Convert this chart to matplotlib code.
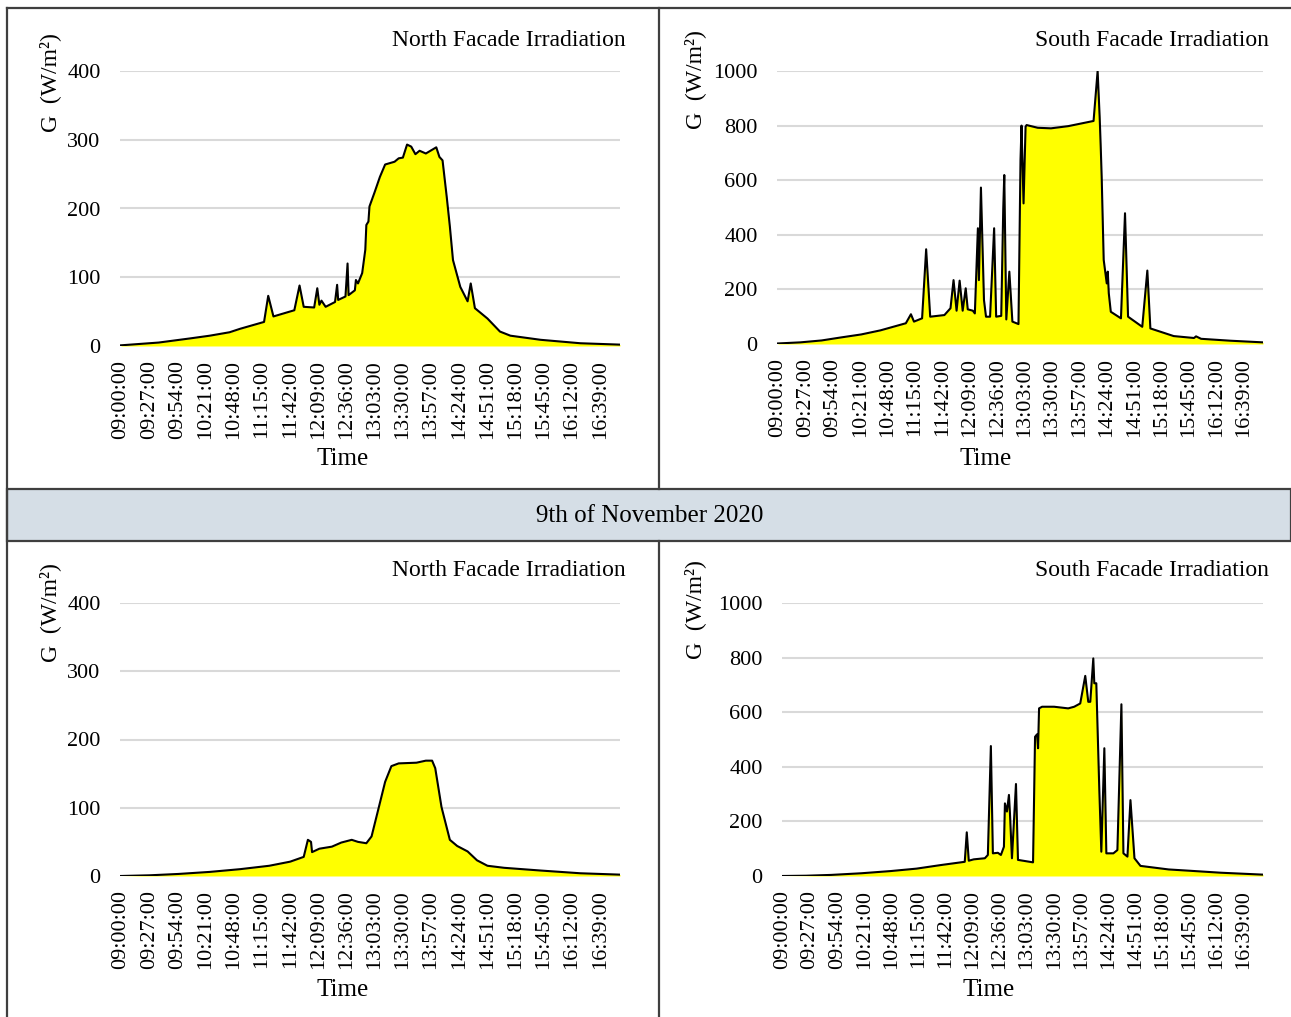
import matplotlib
matplotlib.use("Agg")
import matplotlib.pyplot as plt
from matplotlib.lines import Line2D
from matplotlib.patches import Rectangle

plt.rcParams['font.family'] = ['Liberation Serif', 'DejaVu Serif']

# Category labels (one label every 27 samples, 1 sample = 1 minute)
time_labels = ["09:00:00", "09:27:00", "09:54:00", "10:21:00", "10:48:00",
               "11:15:00", "11:42:00", "12:09:00", "12:36:00", "13:03:00",
               "13:30:00", "13:57:00", "14:24:00", "14:51:00", "15:18:00",
               "15:45:00", "16:12:00", "16:39:00"]
label_step = 27
last_sample = 478

# North facade, top panel (minutes after 09:00, W/m2)
north_top_t = [0, 36, 66, 85, 104, 114, 137, 141, 146, 166, 171, 175, 185, 188,
               190, 192, 196, 205, 207, 208, 215, 217, 218, 224, 225, 227, 231,
               234, 235, 237, 238, 243, 248, 253, 262, 266, 270, 274, 278, 282,
               286, 292, 302, 305, 308, 312, 315, 318, 325, 332, 335, 339, 351,
               363, 373, 402, 440, 478]
north_top_g = [1, 5, 11, 15, 20, 25, 35, 73, 43, 52, 88, 57, 56, 84,
               60, 66, 57, 64, 89, 67, 72, 120, 74, 81, 96, 91, 106,
               140, 176, 181, 203, 224, 246, 264, 268, 273, 274, 293, 290, 279,
               284, 280, 289, 275, 270, 217, 174, 125, 86, 65, 91, 55, 40,
               21, 15, 9, 4, 2]

# South facade, top panel
south_top_t = [0, 22, 43, 62, 82, 101, 126, 131, 134, 142, 146, 150, 164, 170,
               173, 176, 179, 182, 185, 187, 192, 194, 197, 198, 200, 203, 205,
               209, 213, 215, 220, 222, 223, 225, 228, 231, 237, 239, 240, 242,
               244, 245, 256, 269, 286, 311, 315, 317, 318, 319, 321, 324, 325,
               326, 328, 338, 342, 345, 359, 364, 367, 390, 410, 412, 417, 446, 478]
south_top_g = [2, 6, 13, 24, 35, 50, 76, 109, 82, 94, 347, 100, 106, 131,
               234, 122, 232, 122, 204, 127, 122, 112, 424, 234, 573, 161, 100,
               100, 424, 100, 103, 497, 619, 90, 265, 82, 73, 674, 800, 515,
               796, 802, 792, 790, 798, 817, 1000, 833, 729, 613, 308, 222, 265,
               186, 118, 94, 479, 100, 63, 269, 57, 29, 22, 28, 19, 12, 6]

# North facade, bottom panel
north_bot_t = [0, 27, 55, 85, 114, 142, 162, 175, 179, 182, 183, 190, 202, 211,
               221, 227, 235, 240, 247, 253, 259, 266, 283, 292, 298, 301, 307,
               315, 322, 332, 341, 351, 367, 402, 440, 478]
north_bot_g = [0, 1, 3, 6, 10, 15, 21, 28, 53, 50, 35, 40, 43, 49,
               53, 50, 48, 58, 101, 138, 161, 165, 166, 169, 169, 158, 101,
               53, 44, 36, 23, 15, 12, 8, 4, 2]

# South facade, bottom panel
south_bot_t = [0, 23, 48, 78, 107, 133, 157, 181, 183, 185, 190, 201, 204, 207,
               209, 214, 217, 220, 221, 223, 225, 226, 228, 232, 234, 249, 251,
               253, 254, 255, 258, 270, 284, 290, 296, 301, 304, 306, 309, 310,
               312, 315, 317, 320, 322, 329, 333, 337, 339, 343, 346, 350, 356,
               384, 406, 436, 478]
south_bot_g = [0, 1, 4, 10, 18, 27, 40, 52, 160, 56, 61, 65, 77, 476,
               83, 85, 77, 107, 266, 236, 297, 230, 65, 337, 59, 50, 510,
               519, 468, 614, 620, 620, 614, 620, 632, 733, 638, 638, 797, 706,
               706, 315, 89, 468, 83, 83, 95, 629, 83, 71, 278, 65, 37,
               24, 19, 12, 5]

W, H = 1291, 1017
fig = plt.figure(figsize=(W / 100, H / 100), dpi=100)


def fx(px):
    return px / W


def fy(py):
    return 1 - py / H


# (left, right, top, bottom, ymax, step, t, g, title, title y, ylabel xy, time xy) in px
panels = [
    (120, 620, 71, 346, 400, 100, north_top_t, north_top_g,
     "North Facade Irradiation", 40, (50, 83), (343, 459)),
    (777, 1263, 71, 344, 1000, 200, south_top_t, south_top_g,
     "South Facade Irradiation", 40, (695, 80), (986, 459)),
    (120, 620, 603, 876, 400, 100, north_bot_t, north_bot_g,
     "North Facade Irradiation", 571, (50, 613), (343, 990)),
    (782, 1263, 603, 876, 1000, 200, south_bot_t, south_bot_g,
     "South Facade Irradiation", 571, (695, 610), (989, 990)),
]

for left, right, top, bottom, ymax, step, t, g, title, ty, ylab, tlab in panels:
    ax = fig.add_axes([fx(left), fy(bottom), (right - left) / W, (bottom - top) / H])
    ax.fill_between(t, g, 0, color="#FFFF00", linewidth=0, zorder=2)
    ax.plot(t, g, color="black", linewidth=1.5, zorder=3)
    ax.set_xlim(-1, last_sample)
    ax.set_ylim(0, ymax)
    ax.set_yticks(range(0, ymax + 1, step))
    ax.set_xticks([i * label_step for i in range(len(time_labels))])
    ax.set_xticklabels(time_labels, rotation=90)
    ax.tick_params(axis="both", length=0, labelsize=16)
    ax.tick_params(axis="x", pad=10)
    ax.tick_params(axis="y", pad=14)
    ax.grid(axis="y", color="#D9D9D9", linewidth=1.5, zorder=1)
    ax.set_axisbelow(True)
    for s in ax.spines.values():
        s.set_visible(False)
    ax.axhline(0, color="#D9D9D9", linewidth=1.5, zorder=1)
    fig.text(fx(right + 6), fy(ty), title, ha="right", va="center", fontsize=17)
    fig.text(fx(ylab[0]), fy(ylab[1]), "G  (W/m²)", rotation=90,
             ha="center", va="center", fontsize=17)
    fig.text(fx(tlab[0]), fy(tlab[1]), "Time", ha="center", va="center", fontsize=18)

# Frame lines and date banner
line_kw = dict(color="#3F3F3F", linewidth=1.6, transform=fig.transFigure)
fig.add_artist(Rectangle((fx(7), fy(541)), fx(1291) - fx(7), fy(489) - fy(541),
                         transform=fig.transFigure, facecolor="#D5DEE6",
                         edgecolor="#3F3F3F", linewidth=1.6))
fig.add_artist(Line2D([fx(7), fx(1291)], [fy(8), fy(8)], **line_kw))
fig.add_artist(Line2D([fx(7), fx(7)], [fy(8), fy(1017)], **line_kw))
fig.add_artist(Line2D([fx(659), fx(659)], [fy(8), fy(489)], **line_kw))
fig.add_artist(Line2D([fx(659), fx(659)], [fy(541), fy(1017)], **line_kw))
fig.text(fx(650), fy(516), "9th of November 2020", ha="center", va="center", fontsize=18)

plt.savefig("out.png", dpi=100)
